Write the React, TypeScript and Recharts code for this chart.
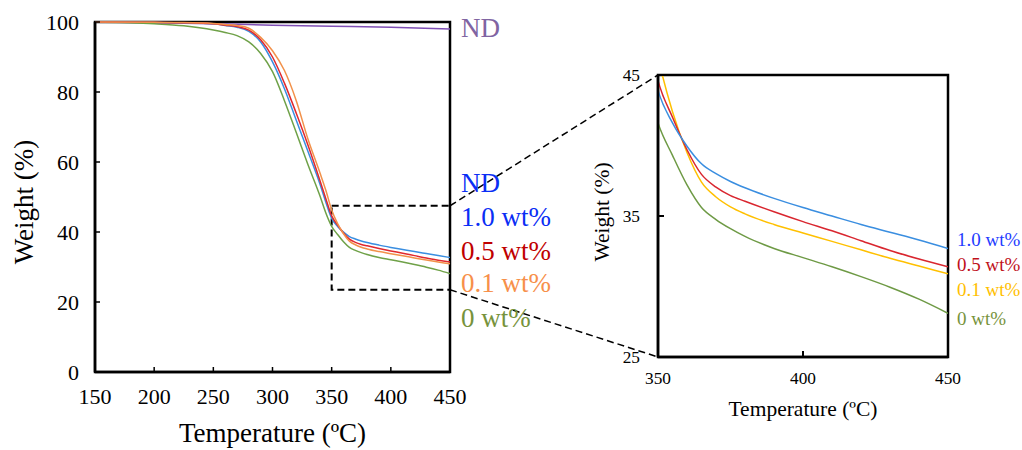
import { LineChart, Line, XAxis, YAxis, ReferenceArea } from 'recharts';

// temperature (ºC) and weight (%)
const temperature = [150, 200, 225, 250, 260, 270, 280, 290, 300, 310, 320, 330, 340, 345, 350, 355, 360, 365, 370, 375, 380, 390, 400, 410, 420, 430, 440, 450];
const wt0 = [100, 99.5, 98.9, 97.7, 97.0, 96.1, 94.3, 91.0, 85.8, 77.6, 68.5, 59.2, 50.4, 45.5, 41.6, 39.3, 37.2, 35.6, 34.75, 34.1, 33.55, 32.7, 32.05, 31.4, 30.7, 29.95, 29.1, 28.1];
const wt01 = [100, 99.9, 99.85, 99.6, 99.3, 99.0, 98.2, 95.6, 91.8, 86.2, 77.6, 66.5, 57.0, 52.0, 46.3, 42.4, 39.5, 37.4, 36.35, 35.65, 35.15, 34.4, 33.8, 33.2, 32.6, 32.0, 31.45, 30.9];
const wt05 = [100, 99.9, 99.8, 99.5, 99.1, 98.7, 97.7, 94.9, 90.0, 82.6, 74.0, 64.8, 54.8, 49.6, 44.6, 42.0, 39.7, 37.95, 37.05, 36.45, 36.05, 35.3, 34.6, 33.95, 33.25, 32.55, 31.95, 31.4];
const wt10 = [100, 99.9, 99.8, 99.5, 99.0, 98.5, 97.3, 94.3, 88.6, 81.0, 72.0, 63.0, 53.8, 48.6, 43.9, 41.6, 39.95, 38.7, 38.0, 37.45, 37.0, 36.25, 35.6, 35.0, 34.4, 33.85, 33.3, 32.7];
const ndTemperature = [150, 200, 250, 300, 350, 400, 450];
const ndWeight = [100, 99.8, 99.5, 99.1, 98.8, 98.5, 98.0];

const mainXTicks = [150, 200, 250, 300, 350, 400, 450];
const mainYTicks = [0, 20, 40, 60, 80, 100];
const zoomXTicks = [350, 400, 450];
const zoomYTicks = [25, 35, 45];
// dashed box on the main chart that the inset magnifies
const zoomBoxT = [350, 450];
const zoomBoxW = [23.5, 47.5];

const mainLabels = ['ND', 'ND', '1.0 wt%', '0.5 wt%', '0.1 wt%', '0 wt%'];
const zoomLabels = ['1.0 wt%', '0.5 wt%', '0.1 wt%', '0 wt%'];

const data = temperature.map((t, i) => ({
  t,
  wt0: wt0[i],
  wt01: wt01[i],
  wt05: wt05[i],
  wt10: wt10[i],
}));
const ndData = ndTemperature.map((t, i) => ({ t, nd: ndWeight[i] }));

const FONT = '"Liberation Serif", "Times New Roman", serif';

// plot boxes in page pixels (used for the connector lines only)
const MAIN = { x0: 95, x1: 450, y0: 22, y1: 372 };
const ZOOM = { x0: 658, x1: 948, y0: 75, y1: 357 };

const mainX = (t: number) => MAIN.x0 + ((t - 150) / 300) * (MAIN.x1 - MAIN.x0);
const mainY = (w: number) => MAIN.y0 + ((100 - w) / 100) * (MAIN.y1 - MAIN.y0);

const mainLabelColors = ['#8064A2', '#0A2EF5', '#0A2EF5', '#C00000', '#F7904A', '#77933C'];
const mainLabelY = [37, 192, 226, 260, 292, 327];
const zoomLabelColors = ['#1E3CFF', '#C0101A', '#FFC000', '#77933C'];
const zoomLabelY = [246, 271, 296, 325];

function MainChart() {
  return (
    <LineChart
      width={470}
      height={450}
      data={data}
      margin={{ top: 22, right: 20, bottom: 0, left: 0 }}
    >
      <XAxis
        dataKey="t"
        type="number"
        domain={[150, 450]}
        ticks={mainXTicks}
        height={78}
        tickSize={-5}
        tickMargin={21}
        axisLine={{ stroke: '#000', strokeWidth: 2.5 }}
        tickLine={{ stroke: '#000', strokeWidth: 1.5 }}
        tick={{ fill: '#000', fontSize: 22, fontFamily: FONT }}
      />
      <YAxis
        type="number"
        domain={[0, 100]}
        ticks={mainYTicks}
        width={95}
        tickSize={-5}
        tickMargin={21}
        axisLine={{ stroke: '#000', strokeWidth: 2.5 }}
        tickLine={{ stroke: '#000', strokeWidth: 1.5 }}
        tick={{ fill: '#000', fontSize: 22, fontFamily: FONT }}
      />
      <ReferenceArea x1={150} x2={450} y1={0} y2={100} fill="none" stroke="#000" strokeWidth={2.5} />
      <ReferenceArea
        x1={zoomBoxT[0]}
        x2={zoomBoxT[1]}
        y1={zoomBoxW[0]}
        y2={zoomBoxW[1]}
        fill="none"
        stroke="#000"
        strokeWidth={2}
        strokeDasharray="7 4"
      />
      <Line data={ndData} dataKey="nd" type="monotone" stroke="#7F4FB5" strokeWidth={1.5} dot={false} isAnimationActive={false} />
      <Line dataKey="wt0" type="monotone" stroke="#6FA148" strokeWidth={1.5} dot={false} isAnimationActive={false} />
      <Line dataKey="wt10" type="monotone" stroke="#3A8EE0" strokeWidth={1.5} dot={false} isAnimationActive={false} />
      <Line dataKey="wt05" type="monotone" stroke="#E0282E" strokeWidth={1.5} dot={false} isAnimationActive={false} />
      <Line dataKey="wt01" type="monotone" stroke="#F2914A" strokeWidth={1.5} dot={false} isAnimationActive={false} />
    </LineChart>
  );
}

function ZoomChart() {
  return (
    <LineChart
      width={462}
      height={450}
      data={data}
      margin={{ top: 75, right: 74, bottom: 0, left: 0 }}
    >
      <XAxis
        dataKey="t"
        type="number"
        domain={[350, 450]}
        allowDataOverflow
        ticks={zoomXTicks}
        height={93}
        tickSize={-6}
        tickMargin={21}
        axisLine={{ stroke: '#000', strokeWidth: 2.5 }}
        tickLine={{ stroke: '#000', strokeWidth: 2 }}
        tick={{ fill: '#000', fontSize: 17.3, fontFamily: FONT }}
      />
      <YAxis
        type="number"
        domain={[25, 45]}
        allowDataOverflow
        ticks={zoomYTicks}
        width={98}
        tickSize={-6}
        tickMargin={24}
        axisLine={{ stroke: '#000', strokeWidth: 2.5 }}
        tickLine={{ stroke: '#000', strokeWidth: 2 }}
        tick={{ fill: '#000', fontSize: 17.3, fontFamily: FONT }}
      />
      <ReferenceArea x1={350} x2={450} y1={25} y2={45} fill="none" stroke="#000" strokeWidth={2.5} />
      <Line dataKey="wt0" type="monotone" stroke="#6E9A45" strokeWidth={1.5} dot={false} isAnimationActive={false} />
      <Line dataKey="wt01" type="monotone" stroke="#FFC000" strokeWidth={1.5} dot={false} isAnimationActive={false} />
      <Line dataKey="wt05" type="monotone" stroke="#D9262F" strokeWidth={1.5} dot={false} isAnimationActive={false} />
      <Line dataKey="wt10" type="monotone" stroke="#3A8EE0" strokeWidth={1.5} dot={false} isAnimationActive={false} />
    </LineChart>
  );
}

export default function App() {
  return (
    <div
      style={{
        position: 'absolute',
        left: 0,
        top: 0,
        width: 1022,
        height: 450,
        background: '#fff',
        fontFamily: FONT,
        overflow: 'hidden',
      }}
    >
      <style>{`svg text, svg tspan { font-family: ${FONT} !important; }`}</style>
      <div style={{ position: 'absolute', left: 0, top: 0 }}>
        <MainChart />
      </div>
      <div style={{ position: 'absolute', left: 560, top: 0 }}>
        <ZoomChart />
      </div>
      <svg
        width={1022}
        height={450}
        style={{ position: 'absolute', left: 0, top: 0, pointerEvents: 'none' }}
      >
        {/* connectors from the dashed box to the inset */}
        <line
          x1={mainX(zoomBoxT[1])}
          y1={mainY(zoomBoxW[1])}
          x2={ZOOM.x0}
          y2={ZOOM.y0}
          stroke="#000"
          strokeWidth={1.5}
          strokeDasharray="7 4"
        />
        <line
          x1={mainX(zoomBoxT[1])}
          y1={mainY(zoomBoxW[0])}
          x2={ZOOM.x0}
          y2={ZOOM.y1}
          stroke="#000"
          strokeWidth={1.5}
          strokeDasharray="7 4"
        />

        {/* axis titles */}
        <text x={(MAIN.x0 + MAIN.x1) / 2} y={442} fontSize={27} textAnchor="middle" fill="#000">
          Temperature (ºC)
        </text>
        <text x={33} y={202} fontSize={27} textAnchor="middle" fill="#000" transform="rotate(-90 33 202)">
          Weight (%)
        </text>
        <text x={(ZOOM.x0 + ZOOM.x1) / 2} y={416} fontSize={21.5} textAnchor="middle" fill="#000">
          Temperature (ºC)
        </text>
        <text x={609} y={212} fontSize={21.5} textAnchor="middle" fill="#000" transform="rotate(-90 609 212)">
          Weight (%)
        </text>

        {/* series labels */}
        {mainLabels.map((s, i) => (
          <text key={'m' + i} x={461} y={mainLabelY[i]} fontSize={27} fill={mainLabelColors[i]}>
            {s}
          </text>
        ))}
        {zoomLabels.map((s, i) => (
          <text key={'z' + i} x={957} y={zoomLabelY[i]} fontSize={19} fill={zoomLabelColors[i]}>
            {s}
          </text>
        ))}
      </svg>
    </div>
  );
}
